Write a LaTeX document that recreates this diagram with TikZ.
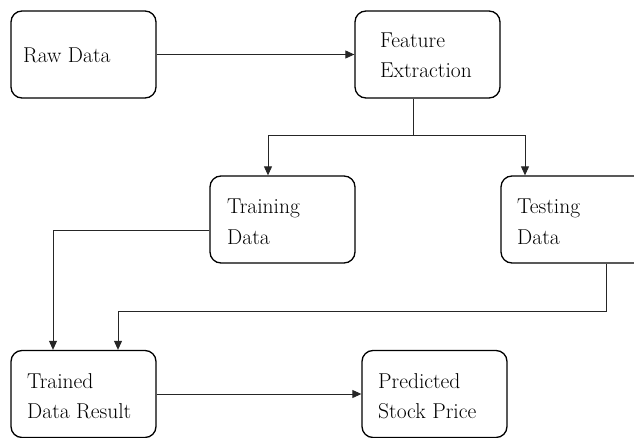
\documentclass[tikz,border=0pt]{standalone}
\usepackage{fontspec}
\usetikzlibrary{arrows.meta}
\begin{document}
\begin{tikzpicture}[x=1pt,y=-1pt,
  box/.style={draw=black, line width=1.3pt, rounded corners=11pt, inner sep=0pt, minimum width=145pt, minimum height=87pt},
  lbl/.style={anchor=base west, inner sep=0pt, font=\fontsize{21.5}{30}\selectfont},
  conn/.style={draw=black!85, line width=0.9pt},
  arr/.style={conn, -{Triangle[length=9pt,width=8pt]}}]
\useasboundingbox (0,0) rectangle (634,438);
\clip (0,0) rectangle (634,438);
% boxes
\node[box] (raw) at (83.5,54.5) {};
\node[box] (feat) at (427.5,54.5) {};
\node[box] (train) at (282.5,219.5) {};
\node[box] (test) at (573.5,219.5) {};
\node[box] (trained) at (83.5,394) {};
\node[box] (pred) at (434.5,394) {};
% texts
\node[lbl] (traw) at (23,63) {Raw Data};
\node[lbl] (tfeat1) at (380,48) {Feature};
\node[lbl] (tfeat2) at (380,78) {Extraction};
\node[lbl] (ttrain1) at (227,214) {Training};
\node[lbl] (ttrain2) at (227,244) {Data};
\node[lbl] (ttest1) at (517,214) {Testing};
\node[lbl] (ttest2) at (517,244) {Data};
\node[lbl] (ttrd1) at (27,388) {Trained};
\node[lbl] (ttrd2) at (27,418) {Data Result};
\node[lbl] (tpred1) at (378,388) {Predicted};
\node[lbl] (tpred2) at (378,418) {Stock Price};
% helper coordinates
\coordinate (split) at (413,135);
\coordinate (ta) at (268,135);
\coordinate (tb) at (525,135);
\coordinate (tl) at (53,230);
\coordinate (tt) at (606,311);
\coordinate (tr) at (118,311);
% connectors
\draw[arr] (raw) -- (feat);
\draw[conn] (feat.south -| split) -- (split);
\draw[arr] (split) -| (ta |- train.north);
\draw[arr] (split) -| (tb |- test.north);
\draw[arr] (train.west |- tl) -- (tl) -- (tl |- trained.north);
\draw[arr] (test.south -| tt) -- (tt) -- (tr) -- (tr |- trained.north);
\draw[arr] (trained) -- (pred);
\end{tikzpicture}
\end{document}
